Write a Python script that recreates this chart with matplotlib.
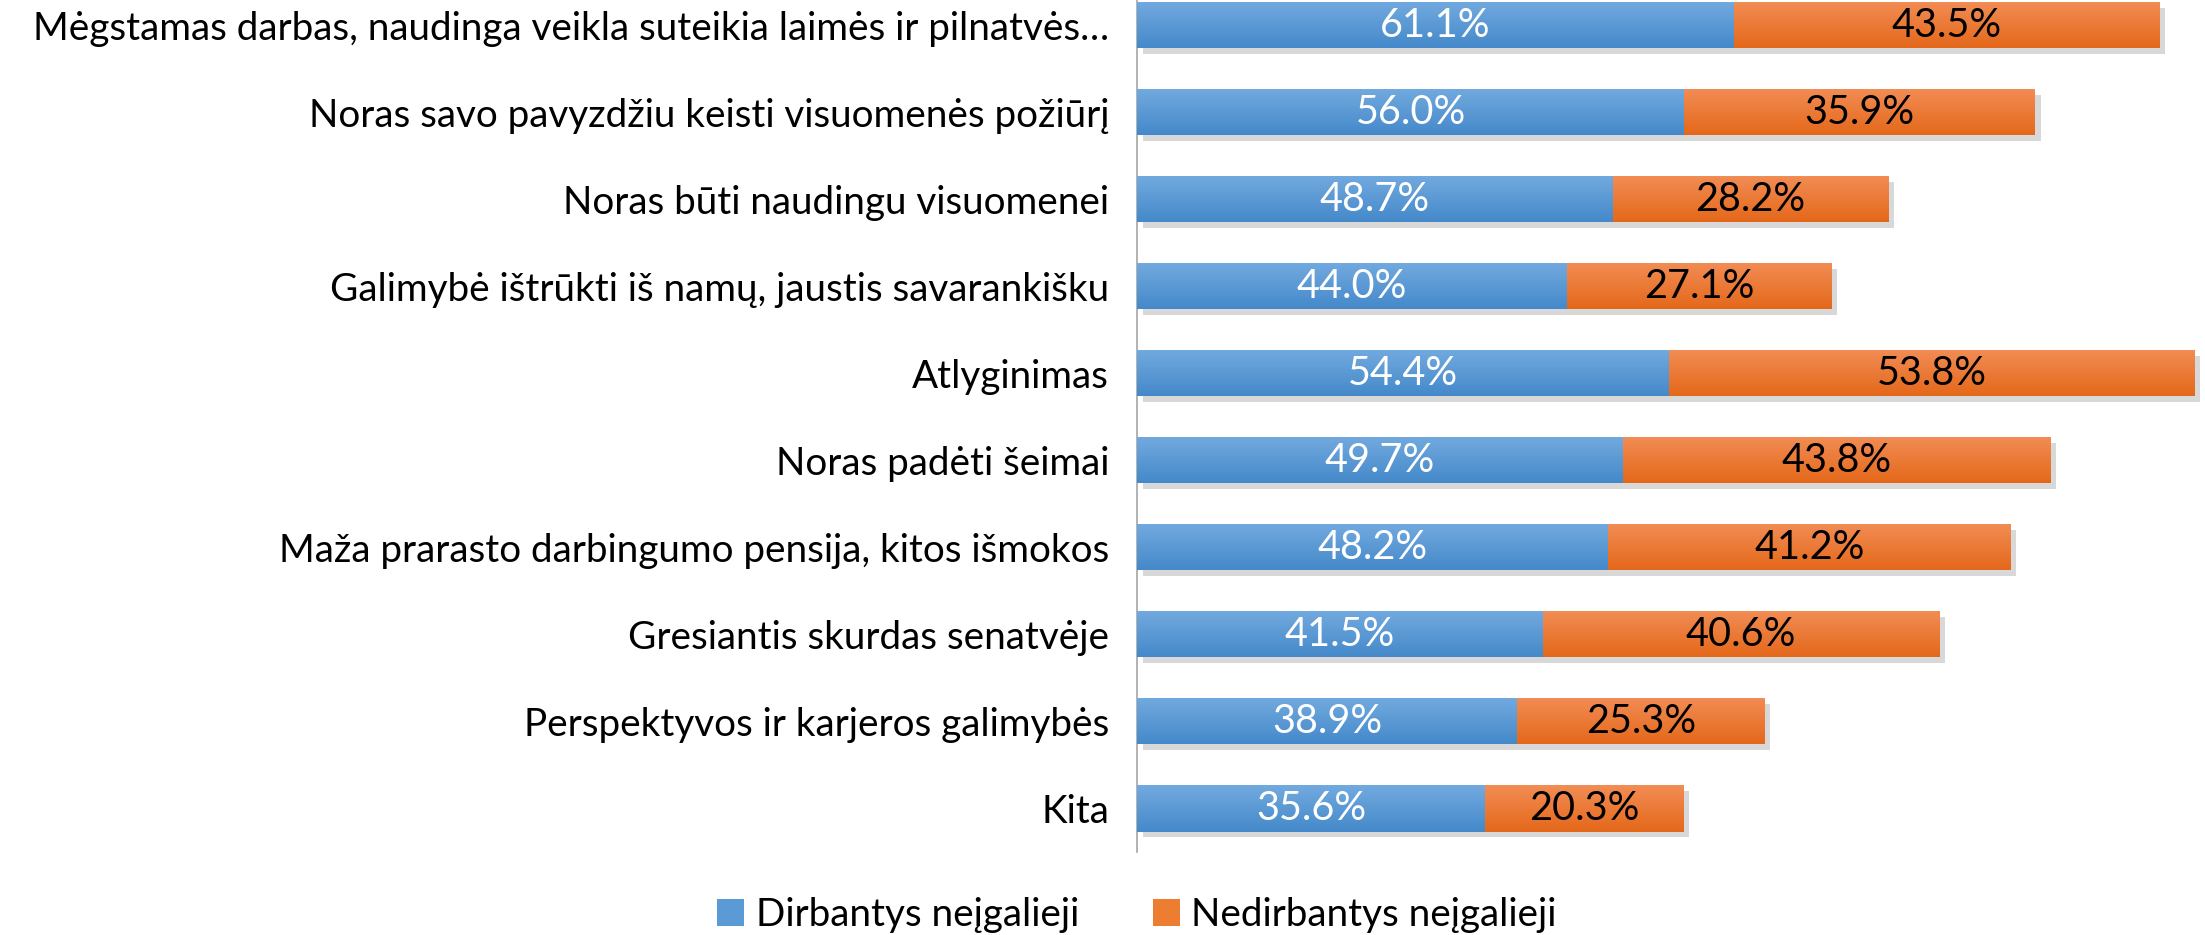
import numpy as np
import matplotlib
matplotlib.use('Agg')
import matplotlib.pyplot as plt
import matplotlib.patheffects as pe
from matplotlib.patches import Patch

categories = [
    'Mėgstamas darbas, naudinga veikla suteikia laimės ir pilnatvės…',
    'Noras savo pavyzdžiu keisti visuomenės požiūrį',
    'Noras būti naudingu visuomenei',
    'Galimybė ištrūkti iš namų, jaustis savarankišku',
    'Atlyginimas',
    'Noras padėti šeimai',
    'Maža prarasto darbingumo pensija, kitos išmokos',
    'Gresiantis skurdas senatvėje',
    'Perspektyvos ir karjeros galimybės',
    'Kita',
]
working = [61.1, 56.0, 48.7, 44.0, 54.4, 49.7, 48.2, 41.5, 38.9, 35.6]
not_working = [43.5, 35.9, 28.2, 27.1, 53.8, 43.8, 41.2, 40.6, 25.3, 20.3]
series_names = ['Dirbantys neįgalieji', 'Nedirbantys neįgalieji']

plt.rcParams['font.family'] = ['Lato', 'DejaVu Sans']
FS = 27.8
FS_VAL = 28.5

blue_top, blue_bot = '#72aadf', '#4589ca'
orng_top, orng_bot = '#f28d55', '#e4681a'


def grad_bars(ax, bars, top, bot):
    c1 = np.array(matplotlib.colors.to_rgb(top))
    c2 = np.array(matplotlib.colors.to_rgb(bot))
    t = np.linspace(0, 1, 64)[:, None]
    img = (c1 * (1 - t) + c2 * t)[:, None, :]
    for b in bars:
        x0, y0 = b.get_x(), b.get_y()
        w, h = b.get_width(), b.get_height()
        im = ax.imshow(img, extent=(x0, x0 + w, y0 + h, y0), aspect='auto',
                       origin='upper', zorder=3, interpolation='bilinear')
        im.set_clip_path(b)


fig = plt.figure(figsize=(22.05, 9.35), dpi=100)
ax = fig.add_axes([1137 / 2205, 1 - 852 / 935, 1 - 1137 / 2205, 852 / 935])

y = np.arange(len(categories))
shadow = [pe.SimplePatchShadow(offset=(4, -4), shadow_rgbFace='#808080', alpha=0.3), pe.Normal()]
b1 = ax.barh(y, working, height=0.53, color=blue_bot, zorder=2, path_effects=shadow)
b2 = ax.barh(y, not_working, left=working, height=0.53, color=orng_bot, zorder=2, path_effects=shadow)
grad_bars(ax, b1, blue_top, blue_bot)
grad_bars(ax, b2, orng_top, orng_bot)

for i in range(len(categories)):
    ax.text(working[i] / 2, y[i], f'{working[i]:.1f}%', color='white', fontsize=FS_VAL,
            ha='center', va='center', zorder=5)
    ax.text(working[i] + not_working[i] / 2, y[i], f'{not_working[i]:.1f}%', color='black',
            fontsize=FS_VAL, ha='center', va='center', zorder=5)

ax.set_xlim(0, 109.3)
ax.set_ylim(9.5, -0.288)
ax.set_yticks(y)
ax.set_yticklabels(categories, fontsize=FS)
ax.tick_params(axis='y', length=0, pad=20)
ax.set_xticks([])
for s in ['top', 'right', 'bottom']:
    ax.spines[s].set_visible(False)
ax.spines['left'].set_color('#a6a6a6')
ax.spines['left'].set_linewidth(1.2)

handles = [Patch(facecolor='#5b9bd5', edgecolor='none'),
           Patch(facecolor='#ed7d31', edgecolor='none')]
fig.legend(handles, series_names, loc='center', bbox_to_anchor=(1137 / 2205, 1 - 915 / 935),
           ncol=2, frameon=False, fontsize=FS, handlelength=0.7, handleheight=0.7,
           handletextpad=0.3, columnspacing=1.9, borderpad=0)

fig.savefig('out.png', dpi=100)
